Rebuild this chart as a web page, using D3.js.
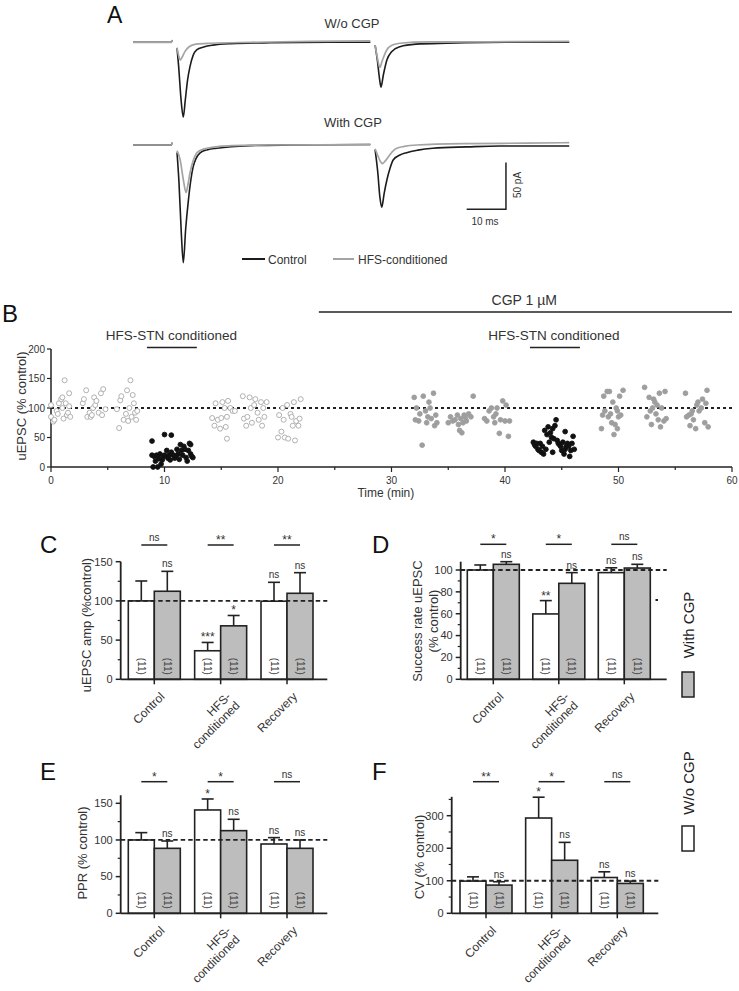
<!DOCTYPE html>
<html><head><meta charset="utf-8">
<script src="https://cdn.jsdelivr.net/npm/d3@7"></script>
<style>body{margin:0;background:#fff}svg{display:block}</style>
</head><body><svg id="c" width="739" height="991"></svg>
<script>
// ---------------- DATA ----------------
// Panel A traces: [time ms, current pA]
const preSeg = [[0,0],[9.8,0],[9.9,2.5]];
const ctrlTop1 = [[11.2,-6],[11.6,-25],[12.2,-60],[12.8,-80],[13.3,-62],[13.9,-40],[14.5,-26],[15.3,-14],[16.2,-8],[18,-5],[20.4,-3],[25,-1.5],[35,-0.5],[50,0],[60.4,0]];
const hfsTop1 = [[11.2,-6],[11.6,-14],[12.0,-19],[12.5,-16],[13.2,-10],[14.2,-5],[16,-2],[20,-1],[30,0],[45,1],[60.4,1.5]];
const ctrlTop2 = [[61.6,-3],[62.2,-20],[62.7,-38],[63.1,-48],[63.7,-35],[64.6,-19],[65.8,-10],[67.9,-4.7],[72,-2],[80,-1],[95,0],[111,0]];
const hfsTop2 = [[61.6,-3],[62.2,-17],[62.8,-27],[63.4,-20],[64.6,-8],[66,-3],[67.9,-1],[75,0.5],[90,0.5],[111,1]];
const ctrlBot1 = [[11.2,-8],[11.7,-40],[12.3,-95],[12.8,-126],[13.4,-90],[14.1,-59],[14.7,-38],[15.3,-23.5],[16.1,-14],[17,-8.6],[19,-5],[21.3,-3.5],[25,-1.8],[29.8,-0.7],[40,0],[60.4,0.5]];
const hfsBot1 = [[11.2,-6],[12.0,-16],[12.8,-37],[13.5,-51],[14.0,-42],[14.5,-30],[15.3,-17],[16.2,-8.6],[17.5,-5],[18.8,-3.5],[22,-1.5],[25.4,-0.7],[35,0],[60.4,0.5]];
const ctrlBot2 = [[61.6,-5],[62.3,-30],[62.8,-55],[63.3,-66.7],[63.9,-52],[64.6,-37.5],[65.4,-25],[66.2,-16],[67.8,-11],[69.6,-8.2],[72.5,-5.5],[76.3,-3.5],[85,-2],[93.4,-1],[111,-1]];
const hfsBot2 = [[61.6,-4],[62.4,-12.5],[63.0,-18],[63.5,-20],[64.2,-17],[65,-12.5],[66,-7],[67.1,-3.5],[69,-1.5],[72.2,0],[85,1.5],[100,2],[111,2.5]];

// Panel B: [time min, uEPSC % control]
const openPre = [[0.0,105],[0.0,85],[0.2,77],[0.3,80],[0.5,95],[0.6,90],[0.7,108],[0.9,115],[1.0,118],[1.0,100],[1.1,82],[1.2,147],[1.3,108],[1.4,88],[1.5,92],[1.6,125],[1.6,103],[1.7,85],
 [2.8,108],[2.9,115],[3.1,130],[3.2,85],[3.4,92],[3.5,85],[3.6,88],[3.7,100],[3.8,118],[3.9,105],[4.0,112],[4.2,92],[4.4,125],[4.5,88],[4.6,132],[4.8,98],
 [5.8,98],[6.0,66],[6.1,113],[6.2,120],[6.4,80],[6.6,90],[6.7,130],[6.8,78],[6.9,100],[7.0,147],[7.1,85],[7.2,122],[7.3,108],[7.4,92],[7.5,80],[7.6,95]];
const blackHfs1 = [[8.9,44],[8.9,20],[9.0,0],[9.1,18],[9.2,10],[9.3,20],[9.4,0],[9.5,14],[9.6,22],[9.7,5],[9.8,12],[9.9,18],[10.0,55],[10.0,20],[10.2,28],[10.3,15],[10.4,20],[10.5,12],[10.6,54],[10.6,25],[10.8,20],[10.9,15],[11.0,18],[11.1,30],[11.2,22],[11.3,13],[11.4,38],[11.5,28],[11.6,20],[11.7,35],[11.8,30],[11.9,16],[12.0,10],[12.1,28],[12.2,40],[12.3,22],[12.4,18],[12.5,16],[12.3,38]];
const openPost = [[14.2,83],[14.4,70],[14.5,108],[14.7,80],[14.9,65],[15.0,83],[15.1,110],[15.3,100],[15.4,68],[15.5,48],[15.6,112],[15.8,100],[16.0,95],[16.2,95],[15.5,85],
 [16.9,120],[17.0,82],[17.2,70],[17.3,85],[17.5,118],[17.6,100],[17.7,75],[17.9,105],[18.0,115],[18.2,92],[18.3,80],[18.5,110],[18.6,70],[18.8,85],[19.0,110],[18.7,100],
 [20.0,50],[20.1,88],[20.3,60],[20.4,100],[20.5,80],[20.6,50],[20.8,105],[20.9,48],[21.1,90],[21.2,85],[21.3,70],[21.4,110],[21.5,45],[21.6,78],[21.8,70],[22.0,115],[21.9,82]];
const grayCgpPre = [[32.0,118],[32.1,80],[32.2,100],[32.5,90],[32.7,37],[32.8,120],[33.0,95],[33.1,75],[33.2,85],[33.3,110],[33.5,82],[33.7,125],[33.8,70],[33.9,88],[34.0,75],[33.4,100],[32.4,78],
 [35.0,75],[35.2,85],[35.4,78],[35.6,80],[35.8,88],[36.0,62],[36.1,82],[36.2,58],[36.4,88],[36.5,84],[36.6,78],[36.8,90],[37.0,85],[37.2,120],[36.3,75],[35.9,72],
 [38.2,82],[38.4,78],[38.6,95],[38.8,100],[39.0,85],[39.1,75],[39.3,100],[39.5,57],[39.6,80],[39.8,112],[40.0,78],[40.1,105],[40.3,52],[40.4,78],[39.2,90]];
const blackHfs2 = [[42.5,42],[42.6,38],[42.7,35],[42.8,40],[42.9,30],[43.0,28],[43.1,40],[43.2,25],[43.3,35],[43.4,22],[43.5,62],[43.6,30],[43.7,55],[43.8,68],[43.9,42],[44.0,58],[44.1,50],[44.2,65],[44.3,48],[44.4,70],[44.5,80],[44.6,45],[44.7,40],[44.8,38],[44.9,35],[45.0,28],[45.1,42],[45.2,22],[45.3,30],[45.4,35],[45.5,40],[45.6,35],[45.7,18],[45.8,28],[45.9,40],[46.0,52],[46.1,30],[45.3,60],[44.2,25]];
const grayCgpPost = [[48.5,65],[48.6,88],[48.7,120],[48.8,95],[49.0,128],[49.1,85],[49.2,128],[49.3,90],[49.4,75],[49.5,110],[49.6,55],[49.7,72],[49.8,100],[49.9,65],[50.0,85],[50.1,120],[50.2,88],[50.4,130],[49.9,95],
 [52.3,135],[52.5,85],[52.7,118],[52.8,95],[52.9,72],[53.0,100],[53.1,115],[53.2,110],[53.3,90],[53.5,80],[53.6,125],[53.7,68],[53.8,100],[54.0,78],[54.1,128],[54.2,82],[53.4,105],
 [55.9,125],[56.0,85],[56.2,88],[56.3,70],[56.5,95],[56.6,80],[56.8,65],[56.9,105],[57.0,110],[57.1,95],[57.3,100],[57.4,115],[57.6,75],[57.7,108],[57.8,130],[57.9,68],[56.4,90]];
const bTicksX = [0,10,20,30,40,50,60];
const bTicksY = [0,50,100,150,200];

// Panels C-F
const categories = ["Control","HFS-conditioned","Recovery"];
const nLabel = "(11)";
const ampWo = [100,36.4,99.6], ampWoSem = [25.4,10.6,24.1];
const ampW = [112.3,68.2,109.7], ampWSem = [25.4,13.2,26.3];
const ampPair = ["ns","**","**"], ampWoSig = ["","***","ns"], ampWSig = ["ns","*","ns"];
const succWo = [100,59.8,97.6], succWoSem = [4.6,12.2,4.4];
const succW = [105.2,87.8,101.8], succWSem = [2.4,9.8,3.4];
const succPair = ["*","*","ns"], succWoSig = ["","**","ns"], succWSig = ["ns","ns","ns"];
const pprWo = [100,140.9,94.5], pprWoSem = [10,15,8.7];
const pprW = [88.6,112.7,88.6], pprWSem = [10,15.5,11.4];
const pprPair = ["*","*","ns"], pprWoSig = ["","*","ns"], pprWSig = ["ns","ns","ns"];
const cvWo = [99,292.9,110], cvWoSem = [13,64,17.5];
const cvW = [86.7,163,91.8], cvWSem = [10.3,55,7.2];
const cvPair = ["**","*","ns"], cvWoSig = ["","*","ns"], cvWSig = ["ns","ns","ns"];

// ---------------- DRAW ----------------
const svg = d3.select("#c");
const FONT = '"Liberation Sans", Arial, sans-serif';
const NARROW = '"Liberation Sans Narrow", "Arial Narrow", "Liberation Sans", sans-serif';
const INK = "#222", GRAYFILL = "#bdbdbd", TXT = "#333";
svg.append("rect").attr("width",739).attr("height",991).attr("fill","#fff");

function label(txt, x, y, opt={}) {
  const t = svg.append("text").attr("x",x).attr("y",y).text(txt)
    .attr("font-family", opt.family || FONT).attr("font-size", opt.size || 12)
    .attr("fill", opt.fill || TXT).attr("text-anchor", opt.anchor || "start");
  if (opt.rotate) t.attr("transform", `rotate(${opt.rotate},${x},${y})`);
  return t;
}

// ----- Panel A -----
label("A", 107, 23, {size:23, fill:"#111"});
label("W/o CGP", 352, 28, {size:13, anchor:"middle"});
label("With CGP", 353, 127, {size:13, anchor:"middle"});
const xA = d3.scaleLinear().domain([0,112]).range([133, 133 + 112*3.93]);
const pxPerPA = 46.7/50;
const yTopA = d3.scaleLinear().domain([0,50]).range([42.3, 42.3 - 50*pxPerPA]);
const yBotA = d3.scaleLinear().domain([0,50]).range([145, 145 - 50*pxPerPA]);
function trace(data, yS, color, w) {
  svg.append("path").datum(data)
    .attr("d", d3.line().x(d=>xA(d[0])).y(d=>yS(d[1])).curve(d3.curveMonotoneX))
    .attr("fill","none").attr("stroke",color).attr("stroke-width",w).attr("stroke-linejoin","round");
}
const GRAYTR = "#a4a4a4", BLACKTR = "#1c1c1c";
[[yTopA,[preSeg,ctrlTop1,ctrlTop2],[preSeg,hfsTop1,hfsTop2]],[yBotA,[preSeg,ctrlBot1,ctrlBot2],[preSeg,hfsBot1,hfsBot2]]]
 .forEach(([ys, ctrl, hfs]) => {
   ctrl.forEach(d => trace(d, ys, BLACKTR, 1.6));
   hfs.forEach(d => trace(d, ys, GRAYTR, 1.7));
 });
// scale bar
const sbT = 94.9, sbI = -68.8;
svg.append("path").attr("d", `M${xA(sbT-10)},${yBotA(sbI)}H${xA(sbT)}V${yBotA(sbI+50)}`)
  .attr("fill","none").attr("stroke",INK).attr("stroke-width",1.5);
label("50 pA", 521, 185, {size:10, anchor:"middle", rotate:-90});
label("10 ms", 485, 225, {size:10, anchor:"middle"});
// legend
svg.append("line").attr("x1",242).attr("x2",265).attr("y1",259).attr("y2",259).attr("stroke",BLACKTR).attr("stroke-width",2);
label("Control", 268, 263.5, {size:12});
svg.append("line").attr("x1",333).attr("x2",354).attr("y1",259).attr("y2",259).attr("stroke",GRAYTR).attr("stroke-width",2);
label("HFS-conditioned", 358, 263.5, {size:12});

// ----- Panel B -----
label("B", 2, 322, {size:24, fill:"#111"});
const xB = d3.scaleLinear().domain([0,60]).range([51,732]);
const yB = d3.scaleLinear().domain([0,200]).range([467,349]);
label("CGP 1 µM", xB(41.7), 305, {size:14, anchor:"middle", family:NARROW});
svg.append("line").attr("x1",xB(23.6)).attr("x2",xB(60)).attr("y1",312).attr("y2",312).attr("stroke",INK).attr("stroke-width",1.5);
label("HFS-STN conditioned", xB(10.6), 340, {size:13.5, anchor:"middle", family:NARROW});
svg.append("line").attr("x1",xB(8.45)).attr("x2",xB(12.85)).attr("y1",347.5).attr("y2",347.5).attr("stroke",INK).attr("stroke-width",1.5);
label("HFS-STN conditioned", xB(44.3), 340, {size:13.5, anchor:"middle", family:NARROW});
svg.append("line").attr("x1",xB(42.2)).attr("x2",xB(46.6)).attr("y1",347.5).attr("y2",347.5).attr("stroke",INK).attr("stroke-width",1.5);

const gB = svg.append("g");
gB.append("line").attr("x1",xB(0)).attr("x2",xB(0)).attr("y1",yB(0)).attr("y2",yB(200)).attr("stroke",INK).attr("stroke-width",1.5);
gB.append("line").attr("x1",xB(0)).attr("x2",xB(60)).attr("y1",yB(0)).attr("y2",yB(0)).attr("stroke",INK).attr("stroke-width",1.5);
bTicksY.forEach(v => {
  gB.append("line").attr("x1",xB(0)-4).attr("x2",xB(0)).attr("y1",yB(v)).attr("y2",yB(v)).attr("stroke",INK).attr("stroke-width",1.2);
  label(v, xB(0)-6, yB(v)+3.5, {size:10, anchor:"end", family:NARROW});
});
d3.range(0,61,5).forEach(v => {
  const major = v % 10 === 0;
  gB.append("line").attr("x1",xB(v)).attr("x2",xB(v)).attr("y1",yB(0)).attr("y2",yB(0)+(major?5:3)).attr("stroke",INK).attr("stroke-width",1.2);
});
bTicksX.forEach(v => label(v, xB(v), 484, {size:10, anchor:"middle", family:NARROW}));
label("Time (min)", xB(29.5), 497, {size:12, anchor:"middle", family:NARROW});
label("uEPSC (% control)", 26, 406, {size:13, anchor:"middle", rotate:-90});
gB.append("line").attr("x1",xB(0)).attr("x2",xB(60)).attr("y1",yB(100)).attr("y2",yB(100))
  .attr("stroke",INK).attr("stroke-width",2).attr("stroke-dasharray","3,3");
function pts(data, fill, stroke, r) {
  gB.selectAll(null).data(data).join("circle")
    .attr("cx",d=>xB(d[0])).attr("cy",d=>yB(d[1])).attr("r",r)
    .attr("fill",fill).attr("stroke",stroke).attr("stroke-width",0.9);
}
pts(openPre, "#fff", "#a8a8a8", 2.5);
pts(openPost, "#fff", "#a8a8a8", 2.5);
pts(grayCgpPre, "#9e9e9e", "#9e9e9e", 2.4);
pts(grayCgpPost, "#9e9e9e", "#9e9e9e", 2.4);
pts(blackHfs1, "#111", "#111", 2.4);
pts(blackHfs2, "#111", "#111", 2.4);

// ----- Bar panels -----
function barPanel(p) {
  const g = svg.append("g");
  const y = d3.scaleLinear().domain(p.yDomain).range(p.yRange);
  const x = d3.scalePoint().domain(categories).range(p.centers);
  const bw = 26, y0 = y(0);
  label(p.letter, p.letterXY[0], p.letterXY[1], {size:24, fill:"#111"});
  p.ylab.forEach((t,i) => label(t, p.ylabX[i], p.ylabY, {size:13, anchor:"middle", rotate:-90}));
  categories.forEach((c,i) => {
    g.append("line").attr("x1",x(c)-13).attr("x2",x(c)+13).attr("y1",p.pairY).attr("y2",p.pairY).attr("stroke",INK).attr("stroke-width",1.5);
    const star = p.pair[i] !== "ns";
    label(p.pair[i], x(c), p.pairY - (star ? 1 : 4), {size: star?12:10, anchor:"middle"});
  });
  const series = [
    {vals:p.wo, sem:p.woSem, fill:"#fff", off:-bw, sig:p.woSig},
    {vals:p.w, sem:p.wSem, fill:GRAYFILL, off:0, sig:p.wSig}];
  series.forEach(s => categories.forEach((c,i) => {
    const bx = x(c)+s.off, cx = bx+bw/2, top = y(s.vals[i]), et = y(s.vals[i]+s.sem[i]);
    g.append("line").attr("x1",cx).attr("x2",cx).attr("y1",top).attr("y2",et).attr("stroke",INK).attr("stroke-width",1.6);
    g.append("line").attr("x1",cx-6).attr("x2",cx+6).attr("y1",et).attr("y2",et).attr("stroke",INK).attr("stroke-width",1.6);
    g.append("rect").attr("x",bx).attr("y",top).attr("width",bw).attr("height",y0-top)
      .attr("fill",s.fill).attr("stroke",INK).attr("stroke-width",1.6);
    const nt = label(nLabel, cx, y0-13, {size:10, anchor:"middle", fill:"#444"});
    nt.attr("dy","0.35em").attr("transform",`rotate(90,${cx},${y0-13})`);
    if (s.sig[i]) {
      const star = s.sig[i] !== "ns";
      label(s.sig[i], cx, et - (star ? 1 : 4), {size: star?12:10, anchor:"middle"});
    }
  }));
  g.append("line").attr("x1",p.x0).attr("x2",p.x1).attr("y1",y(100)).attr("y2",y(100))
    .attr("stroke",INK).attr("stroke-width",1.8).attr("stroke-dasharray","4.5,3");
  g.append("line").attr("x1",p.x0).attr("x2",p.x0).attr("y1",y0).attr("y2",y(p.axisTop)).attr("stroke",INK).attr("stroke-width",1.8);
  g.append("line").attr("x1",p.x0).attr("x2",p.x1).attr("y1",y0).attr("y2",y0).attr("stroke",INK).attr("stroke-width",1.8);
  p.ticks.forEach(v => {
    g.append("line").attr("x1",p.x0-5).attr("x2",p.x0).attr("y1",y(v)).attr("y2",y(v)).attr("stroke",INK).attr("stroke-width",1.5);
    label(v, p.x0-8, y(v)+3.8, {size:11, anchor:"end"});
  });
  p.minor.forEach(v => g.append("line").attr("x1",p.x0-3).attr("x2",p.x0).attr("y1",y(v)).attr("y2",y(v)).attr("stroke",INK).attr("stroke-width",1.2));
  categories.forEach(c => {
    g.append("line").attr("x1",x(c)).attr("x2",x(c)).attr("y1",y0).attr("y2",y0+5).attr("stroke",INK).attr("stroke-width",1.5);
    const ax = x(c)+11, ay = y0+18;
    const t = g.append("text").attr("transform",`translate(${ax},${ay}) rotate(-45)`)
      .attr("text-anchor","end").attr("font-family",FONT).attr("font-size",12).attr("fill",TXT);
    const parts = c === "HFS-conditioned" ? ["HFS-","conditioned"] : [c];
    parts.forEach((s,k) => t.append("tspan").attr("x",0).attr("dy", k===0?0:"1.05em").text(s));
  });
  if (p.extra) p.extra(g, x, y);
}

barPanel({letter:"C", letterXY:[40,553], yDomain:[0,150], yRange:[679.3,561.7], axisTop:150,
  ticks:[0,50,100,150], minor:[25,75,125], centers:[154.3,287], x0:120.7, x1:327.3,
  ylab:["uEPSC amp (%control)"], ylabX:[91], ylabY:625, pairY:545,
  wo:ampWo, woSem:ampWoSem, w:ampW, wSem:ampWSem, pair:ampPair, woSig:ampWoSig, wSig:ampWSig});
barPanel({letter:"D", letterXY:[372,553], yDomain:[0,100], yRange:[679.3,570], axisTop:107.6,
  ticks:[0,20,40,60,80,100], minor:[10,30,50,70,90], centers:[493.3,624.3], x0:460.7, x1:666.7,
  ylab:["Success rate uEPSC","(% control)"], ylabX:[422,438], ylabY:621, pairY:544.3,
  wo:succWo, woSem:succWoSem, w:succW, wSem:succWSem, pair:succPair, woSig:succWoSig, wSig:succWSig,
  extra:(g)=>{ g.append("rect").attr("x",655.5).attr("y",599).attr("width",2.5).attr("height",2).attr("fill",INK); }});
barPanel({letter:"E", letterXY:[40,780], yDomain:[0,150], yRange:[913.3,803.3], axisTop:161,
  ticks:[0,50,100,150], minor:[25,75,125], centers:[154.3,287], x0:120.7, x1:327.3,
  ylab:["PPR (% control)"], ylabX:[87], ylabY:853, pairY:781.7,
  wo:pprWo, woSem:pprWoSem, w:pprW, wSem:pprWSem, pair:pprPair, woSig:pprWoSig, wSig:pprWSig});
barPanel({letter:"F", letterXY:[372,780], yDomain:[0,300], yRange:[913.3,815.7], axisTop:358,
  ticks:[0,100,200,300], minor:[50,150,250,350], centers:[486,617.3], x0:451.7, x1:658.3,
  ylab:["CV (% control)"], ylabX:[424], ylabY:857, pairY:781.7,
  wo:cvWo, woSem:cvWoSem, w:cvW, wSem:cvWSem, pair:cvPair, woSig:cvWoSig, wSig:cvWSig});

// ----- side legend -----
label("With CGP", 694, 625, {size:15, anchor:"middle", rotate:-90, fill:"#222"});
svg.append("rect").attr("x",682).attr("y",672).attr("width",12).attr("height",25).attr("fill",GRAYFILL).attr("stroke",INK).attr("stroke-width",1.5);
label("W/o CGP", 694, 783, {size:15, anchor:"middle", rotate:-90, fill:"#222"});
svg.append("rect").attr("x",682).attr("y",826).attr("width",12).attr("height",25).attr("fill","#fff").attr("stroke",INK).attr("stroke-width",1.5);
</script></body></html>
